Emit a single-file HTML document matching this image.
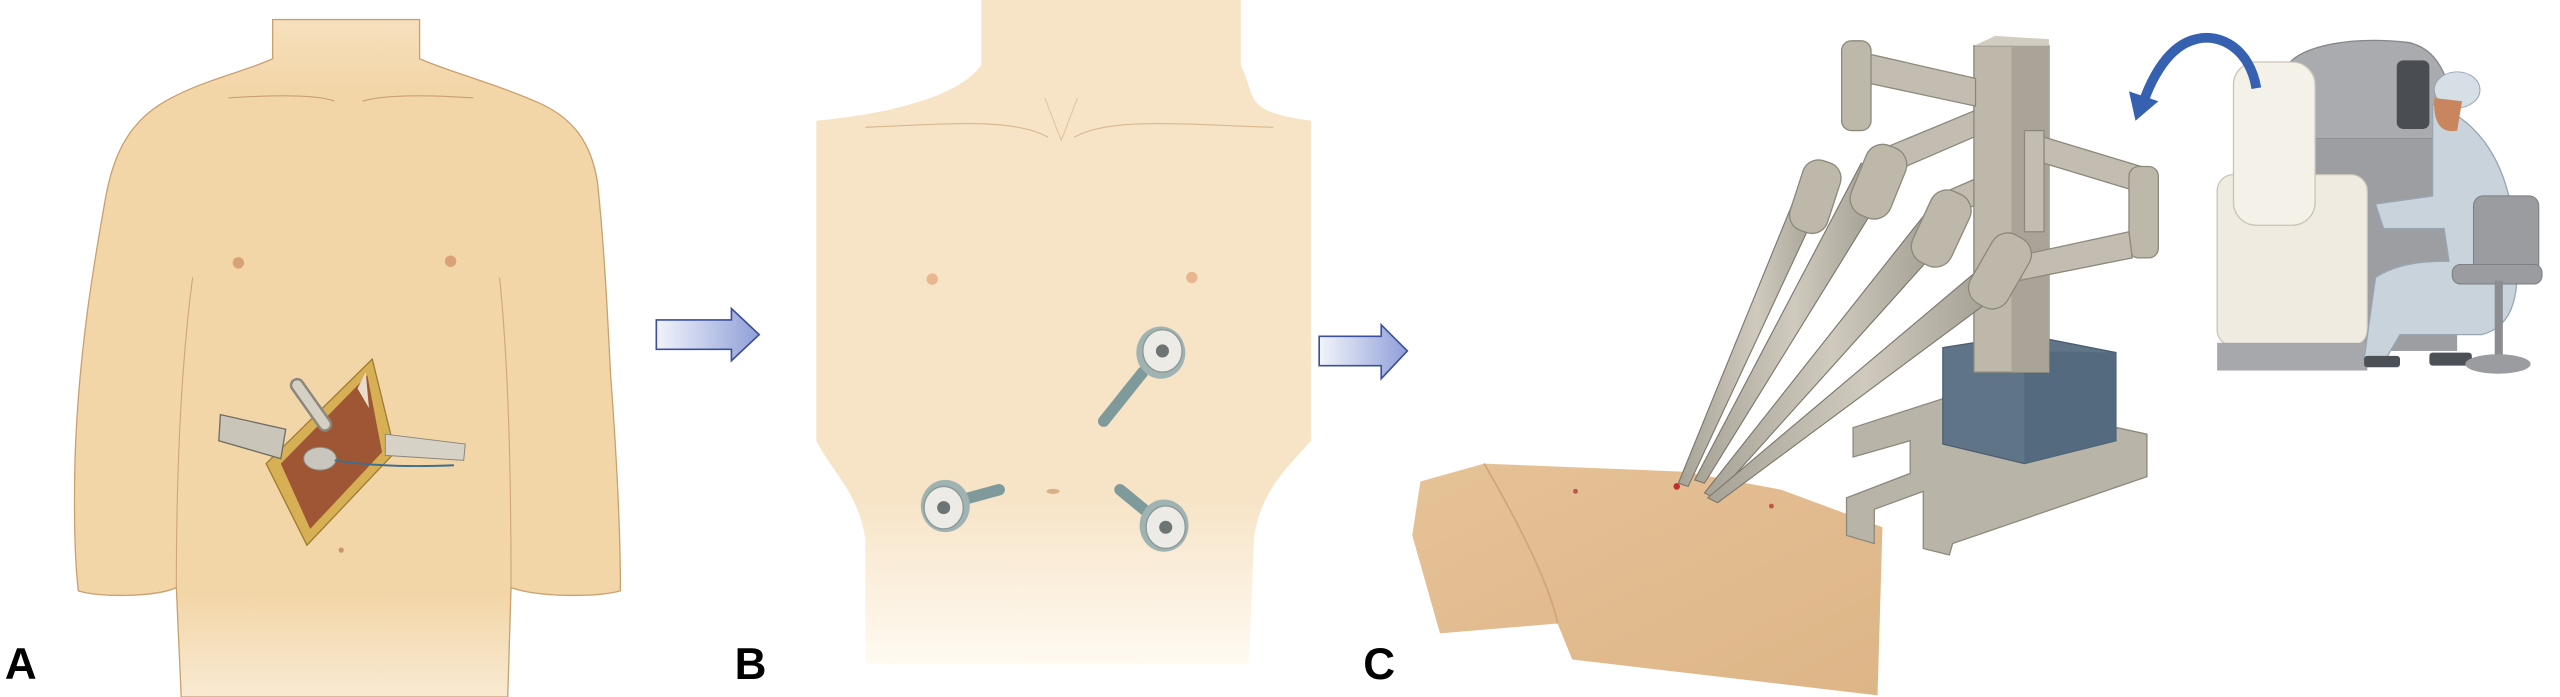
<!DOCTYPE html>
<html><head><meta charset="utf-8"><style>
html,body{margin:0;padding:0;background:#fff;}
svg{display:block;}
text{font-family:"Liberation Sans",Arial,sans-serif;font-weight:bold;}
</style></head><body>
<svg width="2560" height="697" viewBox="0 0 1568 427" preserveAspectRatio="none" xmlns="http://www.w3.org/2000/svg">
<defs>
<linearGradient id="arr" x1="0" x2="1" y1="0" y2="0"><stop offset="0" stop-color="#f2f4fb"/><stop offset="1" stop-color="#8f9fd8"/></linearGradient>
<linearGradient id="fadeA" x1="0" x2="0" y1="0" y2="1"><stop offset="0" stop-color="#f6e0bd"/><stop offset="0.1" stop-color="#f3d6a8"/><stop offset="0.85" stop-color="#f3d6a8"/><stop offset="1" stop-color="#f8ead2"/></linearGradient>
<linearGradient id="fadeB" x1="0" x2="0" y1="0" y2="1"><stop offset="0" stop-color="#f7e4c7"/><stop offset="0.75" stop-color="#f7e4c7"/><stop offset="1" stop-color="#fffaf2"/></linearGradient>
<linearGradient id="skinC" x1="0" x2="1" y1="0" y2="1"><stop offset="0" stop-color="#e6c297"/><stop offset="1" stop-color="#ddb587"/></linearGradient>
<linearGradient id="tube" x1="0" x2="1"><stop offset="0" stop-color="#a7a296"/><stop offset="0.5" stop-color="#cfcabd"/><stop offset="1" stop-color="#9a958a"/></linearGradient>
</defs>

<!-- Panel A torso -->
<path d="M167,12 L167,36 C150,44 120,50 98,64 C76,78 68,100 64,125 C56,170 48,220 46,280 C45,320 46,345 48,362 C60,366 95,366 108,360 L111,427 L311,427 L313,360 C330,366 365,366 380,362 C380,320 377,270 374,230 C372,190 370,150 366,112 C362,86 350,72 330,63 C300,50 275,44 257,36 L257,12 Z" fill="url(#fadeA)" stroke="#c9a070" stroke-width="0.8"/>
<path d="M108,360 C108,300 110,230 118,170" fill="none" stroke="#cfa67a" stroke-width="0.7"/>
<path d="M313,360 C313,300 312,230 306,170" fill="none" stroke="#cfa67a" stroke-width="0.7"/>
<path d="M140,60 C170,58 195,58 205,62 M222,62 C235,58 260,58 290,60" fill="none" stroke="#c9a070" stroke-width="0.7"/>
<circle cx="146" cy="161" r="3.5" fill="#d9a276"/><circle cx="276" cy="160" r="3.5" fill="#d9a276"/>
<circle cx="209" cy="337" r="1.6" fill="#c9956a"/>
<!-- incision -->
<polygon points="228,220 163,284 188,334 242,277" fill="#d7b055" stroke="#9d7b30" stroke-width="0.8"/>
<polygon points="225,230 172,284 190,324 234,277" fill="#9e5634"/>
<polygon points="219,238 224,228 226,250" fill="#e9ddc9"/>
<line x1="182" y1="236" x2="199" y2="260" stroke="#8b877c" stroke-width="9" stroke-linecap="round"/>
<line x1="182" y1="236" x2="199" y2="260" stroke="#d4d0c4" stroke-width="6" stroke-linecap="round"/>
<polygon points="135,254 175,263 172,281 134,270" fill="#c9c5b8" stroke="#6f6b62" stroke-width="0.8"/>
<polygon points="236,266 285,272 284,282 236,279" fill="#d6d2c6" stroke="#8a867c" stroke-width="0.6"/>
<ellipse cx="196" cy="281" rx="10" ry="7" fill="#c9c7bd" stroke="#888" stroke-width="0.6"/>
<path d="M205,282 C230,286 255,286 278,285" fill="none" stroke="#3d6f8e" stroke-width="1.2"/>

<!-- arrow 1 -->
<polygon points="402,196 448,196 448,189 465,205 448,221 448,214 402,214" fill="url(#arr)" stroke="#3b4f9a" stroke-width="1"/>

<!-- Panel B torso -->
<path d="M601,0 L601,40 C590,55 560,68 500,74 L500,270 C510,290 525,300 530,330 L530,407 L765,407 L768,330 C772,300 790,285 803,270 L803,74 C760,68 770,60 760,40 L760,0 Z" fill="url(#fadeB)"/>
<path d="M530,78 C580,76 620,72 642,84 M658,84 C680,72 720,76 780,78" fill="none" stroke="#d8b88f" stroke-width="0.7"/>
<path d="M640,60 L650,86 L660,60" fill="none" stroke="#e2c6a0" stroke-width="0.7"/>
<circle cx="571" cy="171" r="3.5" fill="#e8b78f"/><circle cx="730" cy="170" r="3.5" fill="#e8b78f"/>
<ellipse cx="645" cy="301" rx="4" ry="1.6" fill="#d9b08a"/>
<g>
<line x1="676" y1="258" x2="700" y2="228" stroke="#7f9a9a" stroke-width="7" stroke-linecap="round"/>
<ellipse cx="711" cy="216" rx="15" ry="16" fill="#9fb3b2"/>
<ellipse cx="712" cy="215" rx="12" ry="13" fill="#ecebe6" stroke="#8a9796" stroke-width="0.8"/>
<circle cx="712" cy="215" r="4" fill="#6d7574"/>
</g>
<g>
<line x1="612" y1="300" x2="590" y2="306" stroke="#7f9a9a" stroke-width="7" stroke-linecap="round"/>
<ellipse cx="579" cy="310" rx="15" ry="16" fill="#9fb3b2"/>
<ellipse cx="578" cy="311" rx="12" ry="13" fill="#ecebe6" stroke="#8a9796" stroke-width="0.8"/>
<circle cx="578" cy="311" r="4" fill="#6d7574"/>
</g>
<g>
<line x1="686" y1="300" x2="703" y2="314" stroke="#7f9a9a" stroke-width="7" stroke-linecap="round"/>
<ellipse cx="713" cy="322" rx="15" ry="16" fill="#9fb3b2"/>
<ellipse cx="714" cy="323" rx="12" ry="13" fill="#ecebe6" stroke="#8a9796" stroke-width="0.8"/>
<circle cx="714" cy="323" r="4" fill="#6d7574"/>
</g>

<!-- arrow 2 -->
<polygon points="808,206 846,206 846,199 862,215 846,232 846,224 808,224" fill="url(#arr)" stroke="#3b4f9a" stroke-width="1"/>

<!-- Panel C patient -->
<polygon points="870,295 909,284 1032,289 1091,300 1153,323 1150,426 963,404 954,382 882,388 865,328" fill="url(#skinC)"/>
<path d="M909,284 C930,320 950,360 954,382" fill="none" stroke="#cfa57a" stroke-width="1"/>
<circle cx="965" cy="301" r="1.5" fill="#c0564a"/><circle cx="1027" cy="298" r="2" fill="#c0302a"/><circle cx="1085" cy="310" r="1.5" fill="#c0564a"/>

<!-- robot foot -->
<path d="M1131,305 L1131,328 L1148,333 L1148,312 L1178,301 L1178,336 L1194,340 L1196,333 L1315,292 L1315,266 L1200,241 L1135,262 L1135,280 L1170,270 L1170,290 Z" fill="#b9b4a8" stroke="#8e897e" stroke-width="0.8"/>
<polygon points="1190,213 1240,205 1296,216 1296,270 1240,284 1190,272" fill="#5f7487" stroke="#4b5e70" stroke-width="0.8"/>
<polygon points="1240,215 1296,216 1296,270 1240,284" fill="#546a7e"/>
<rect x="1209" y="28" width="46" height="200" fill="#bdb8aa" stroke="#8d887c" stroke-width="0.8"/>
<rect x="1232" y="28" width="23" height="200" fill="#a9a497"/>
<polygon points="1209,28 1222,22 1255,24 1255,28" fill="#d2cdc1"/>
<g stroke="#8d887c" stroke-width="0.8">
<polygon points="1140,32 1210,48 1210,65 1140,50" fill="#c2bdb0"/>
<rect x="1128" y="25" width="18" height="55" rx="6" fill="#bdb8aa"/>
<polygon points="1151,92 1209,68 1209,84 1158,106" fill="#c2bdb0"/>
<polygon points="1186,120 1209,110 1209,126 1190,134" fill="#c2bdb0"/>
<rect x="1240" y="80" width="12" height="62" fill="#c2bdb0"/>
<polygon points="1252,84 1318,104 1318,120 1252,100" fill="#c2bdb0"/>
<rect x="1304" y="102" width="18" height="56" rx="6" fill="#bdb8aa"/>
<polygon points="1230,158 1304,142 1306,158 1236,172" fill="#c2bdb0"/>
</g>
<g>
<polygon points="1108,100 1124,105 1034,298 1028,296" fill="url(#tube)" stroke="#7c776d" stroke-width="0.7"/>
<rect x="1100" y="98" width="24" height="45" rx="10" fill="#bdb8aa" stroke="#8d887c" stroke-width="0.8" transform="rotate(18 1112 120)"/>
<polygon points="1140,100 1160,108 1044,296 1038,294" fill="url(#tube)" stroke="#7c776d" stroke-width="0.7"/>
<rect x="1138" y="88" width="26" height="46" rx="11" fill="#bdb8aa" stroke="#8d887c" stroke-width="0.8" transform="rotate(22 1150 110)"/>
<polygon points="1180,130 1200,138 1050,305 1044,302" fill="url(#tube)" stroke="#7c776d" stroke-width="0.7"/>
<rect x="1176" y="116" width="26" height="48" rx="11" fill="#bdb8aa" stroke="#8d887c" stroke-width="0.8" transform="rotate(25 1189 140)"/>
<polygon points="1218,160 1238,170 1052,308 1046,305" fill="url(#tube)" stroke="#7c776d" stroke-width="0.7"/>
<rect x="1212" y="142" width="26" height="48" rx="11" fill="#bdb8aa" stroke="#8d887c" stroke-width="0.8" transform="rotate(30 1225 166)"/>
</g>

<!-- console -->
<path d="M1401,85 L1401,40 C1410,28 1440,22 1475,26 C1495,30 1502,50 1505,85 Z" fill="#a9abae" stroke="#85878a" stroke-width="0.8"/>
<rect x="1468" y="37" width="20" height="42" rx="4" fill="#4a4d52"/>
<rect x="1410" y="85" width="95" height="130" fill="#9c9ea2"/>
<rect x="1358" y="107" width="92" height="105" rx="10" fill="#efebe0" stroke="#c9c4b6" stroke-width="0.8"/>
<rect x="1368" y="38" width="50" height="100" rx="14" fill="#f4f1e8" stroke="#c9c4b6" stroke-width="0.8"/>
<rect x="1358" y="210" width="92" height="17" fill="#a6a8ab"/>
<path d="M1490,64 C1510,70 1535,90 1540,140 C1545,180 1540,200 1520,205 L1470,205 L1460,222 L1448,220 L1455,170 C1470,160 1490,160 1500,160 L1497,140 L1460,140 L1455,125 L1490,120 Z" fill="#c8d3dc" stroke="#98a6b2" stroke-width="0.8"/>
<ellipse cx="1505" cy="55" rx="14" ry="11" fill="#d6dfe6" stroke="#98a6b2" stroke-width="0.6"/>
<path d="M1491,60 C1490,75 1495,82 1505,80 L1508,62 Z" fill="#c9865e"/>
<rect x="1448" y="218" width="22" height="7" rx="2" fill="#4c5057"/>
<rect x="1488" y="216" width="26" height="8" rx="2" fill="#4c5057"/>
<rect x="1515" y="120" width="40" height="48" rx="6" fill="#9a9ca0" stroke="#7a7c80" stroke-width="0.6"/>
<rect x="1502" y="162" width="55" height="12" rx="5" fill="#9a9ca0" stroke="#7a7c80" stroke-width="0.6"/>
<rect x="1528" y="172" width="5" height="48" fill="#8b8d91"/>
<ellipse cx="1530" cy="223" rx="20" ry="6" fill="#9a9ca0"/>
<path d="M1382,54 C1378,30 1360,20 1345,24 C1328,28 1318,48 1313,62" fill="none" stroke="#3561b0" stroke-width="6"/>
<polygon points="1304,56 1322,62 1308,74" fill="#3561b0"/>

<text x="3" y="416" font-size="27">A</text>
<text x="450" y="416" font-size="27">B</text>
<text x="835" y="416" font-size="27">C</text>
</svg>
</body></html>
